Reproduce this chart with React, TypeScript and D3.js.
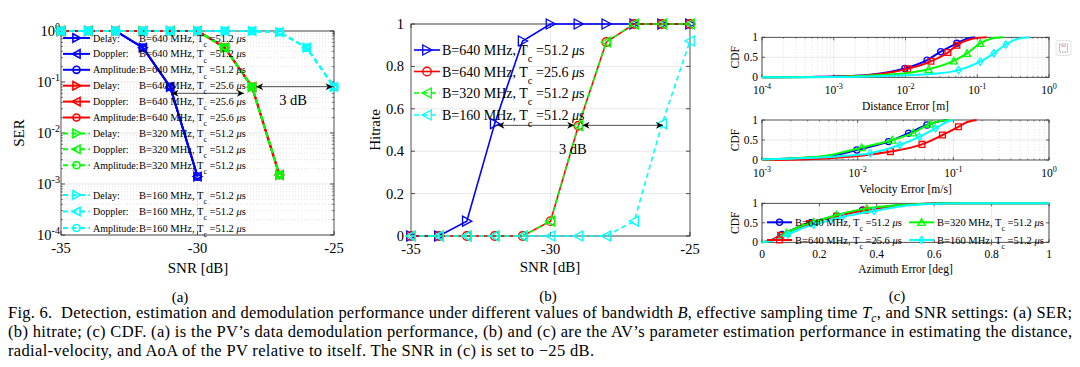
import React from 'react';
import * as d3 from 'd3';

const W = 1080;
const H = 367;
const FONT = '"Liberation Serif", "Times New Roman", serif';

// ---- (a) SER vs SNR ----
const snr = [-35, -34, -33, -32, -31, -30, -29, -28, -27, -26, -25];
const serB640T512 = [1, 1, 1, 0.47, 0.08, 0.0014, null, null, null, null, null];
const serB640T256 = [1, 1, 1, 1, 1, 1, 0.47, 0.08, 0.0015, null, null];
const serB320T512 = [1, 1, 1, 1, 1, 1, 0.47, 0.08, 0.0015, null, null];
const serB160T512 = [1, 1, 1, 1, 1, 1, 1, 1, 0.95, 0.47, 0.08];
const serParams = ['Delay:', 'Doppler:', 'Amplitude:'];
const serTicksY = [1e-4, 1e-3, 1e-2, 1e-1, 1];
// [x1, x2, y]
const serArrows = [[-30.95, -28.3, 0.06], [-27.85, -25.05, 0.081]];

// ---- (b) Hitrate vs SNR ----
const hitB640T512 = [0, 0, 0.07, 0.53, 0.92, 1, 1, 1, 1, 1, 1];
const hitB640T256 = [0, 0, 0, 0, 0, 0.07, 0.52, 0.915, 1, 1, 1];
const hitB320T512 = [0, 0, 0, 0, 0, 0.07, 0.52, 0.915, 1, 1, 1];
const hitB160T512 = [0, 0, 0, 0, 0, 0, 0, 0, 0.07, 0.53, 0.92];
const hitTicksY = [0, 0.2, 0.4, 0.6, 0.8, 1];
const hitArrows = [[-31.9, -29.15, 0.522], [-28.85, -25.97, 0.522]];

// ---- (c) CDFs: [error, cdf], marker indices ----
const distB640T512 = [[1e-4, 0], [5e-4, 0.01], [1e-3, 0.02], [3e-3, 0.06], [6e-3, 0.13], [0.0098, 0.22], [0.02, 0.43], [0.031, 0.64], [0.052, 0.85], [0.07, 0.96], [0.093, 1]];
const distB640T256 = [[1e-4, 0], [1e-3, 0.015], [3e-3, 0.05], [6e-3, 0.12], [0.0107, 0.21], [0.0226, 0.4], [0.039, 0.62], [0.052, 0.8], [0.08, 0.95], [0.135, 1]];
const distB320T512 = [[1e-4, 0], [1e-3, 0.01], [3e-3, 0.04], [0.01, 0.1], [0.021, 0.2], [0.047, 0.41], [0.072, 0.6], [0.11, 0.85], [0.16, 0.97], [0.23, 1]];
const distB160T512 = [[1e-4, 0], [1e-3, 0.005], [3e-3, 0.02], [0.01, 0.05], [0.03, 0.1], [0.055, 0.18], [0.11, 0.39], [0.17, 0.6], [0.25, 0.82], [0.35, 0.95], [0.54, 1]];
const distMarks = [[5, 6, 7, 8], [4, 5, 6, 7], [4, 5, 6, 7], [5, 6, 7, 8]];

const velB640T512 = [[1e-3, 0.02], [2e-3, 0.04], [5e-3, 0.1], [0.0098, 0.25], [0.021, 0.46], [0.034, 0.67], [0.053, 0.875], [0.07, 0.96], [0.085, 1]];
const velB640T256 = [[1e-3, 0], [3e-3, 0.02], [7e-3, 0.07], [0.012, 0.12], [0.022, 0.21], [0.047, 0.39], [0.077, 0.625], [0.113, 0.83], [0.14, 0.95], [0.175, 1]];
const velB320T512 = [[1e-3, 0.02], [2e-3, 0.04], [5e-3, 0.12], [0.011, 0.31], [0.023, 0.5], [0.038, 0.68], [0.057, 0.9], [0.075, 0.98], [0.09, 1]];
const velB160T512 = [[1e-3, 0.015], [3e-3, 0.05], [7e-3, 0.1], [0.0135, 0.17], [0.0275, 0.375], [0.044, 0.58], [0.065, 0.79], [0.085, 0.95], [0.1, 1]];
const velMarks = [[3, 4, 5, 6], [4, 5, 6, 7], [3, 4, 5, 6], [3, 4, 5, 6]];

const aziB640T512 = [[0, 0], [0.03, 0.05], [0.07, 0.2], [0.12, 0.37], [0.17, 0.5], [0.26, 0.68], [0.35, 0.83], [0.45, 0.93], [0.55, 0.98], [0.65, 1], [1, 1]];
const aziB640T256 = [[0, 0], [0.03, 0.04], [0.065, 0.18], [0.12, 0.35], [0.165, 0.48], [0.26, 0.67], [0.36, 0.82], [0.45, 0.92], [0.55, 0.98], [0.65, 1], [1, 1]];
const aziB320T512 = [[0, 0], [0.04, 0.06], [0.085, 0.24], [0.13, 0.4], [0.18, 0.52], [0.26, 0.7], [0.365, 0.87], [0.45, 0.94], [0.55, 0.98], [0.65, 1], [1, 1]];
const aziB160T512 = [[0, 0], [0.04, 0.05], [0.09, 0.2], [0.14, 0.36], [0.18, 0.45], [0.28, 0.65], [0.39, 0.8], [0.48, 0.92], [0.58, 0.98], [0.7, 1], [1, 1]];
const aziMarks = [[2, 4, 5, 6], [2, 4, 5, 6], [2, 4, 5, 6], [2, 4, 5, 6]];

const configB = ['640', '640', '320', '160'];
const configTc = ['51.2', '25.6', '51.2', '51.2'];

// styles
const COLORS = ['#0000ff', '#ff0000', '#00ff00', '#00ffff'];
const DASH = [undefined, undefined, '5,3.5', '5,3.5'];
const HIT_MARK = ['tr', 'o', 'tl', 'tl'];
const CDF_MARK = ['o', 's', 'tu', 'd'];
const SER_MARK = ['tr', 'tl', 'o'];
const AXIS = '#262626';
const GRID = '#e2e2e2';
const MINOR = '#cfcfcf';

function mk(type: string, x: number, y: number, s: number) {
  switch (type) {
    case 'tr': return `M${x - s * 0.85},${y - s}L${x + s},${y}L${x - s * 0.85},${y + s}Z`;
    case 'tl': return `M${x + s * 0.85},${y - s}L${x - s},${y}L${x + s * 0.85},${y + s}Z`;
    case 'tu': return `M${x - s},${y + s * 0.85}L${x},${y - s}L${x + s},${y + s * 0.85}Z`;
    case 's': return `M${x - s * 0.8},${y - s * 0.8}h${1.6 * s}v${1.6 * s}h${-1.6 * s}Z`;
    case 'd': return `M${x},${y - s}L${x + s * 0.75},${y}L${x},${y + s}L${x - s * 0.75},${y}Z`;
    default: {
      const r = s * 0.85;
      return `M${x - r},${y}a${r},${r} 0 1,0 ${2 * r},0a${r},${r} 0 1,0 ${-2 * r},0`;
    }
  }
}

function CfgLabel({ x, y, i, size }: any) {
  return (
    <text x={x} y={y} fontSize={size} fontFamily={FONT} fill="#000">
      B={configB[i]} MHz, T
      <tspan dy={size * 0.5} fontSize={size * 0.75}>c</tspan>
      <tspan dy={-size * 0.5}> ={configTc[i]} </tspan>
      <tspan fontStyle="italic">μ</tspan>s
    </text>
  );
}

function Pow({ x, y, e, size, anchor }: any) {
  return (
    <text x={x} y={y} fontSize={size} fontFamily={FONT} textAnchor={anchor || 'middle'} fill="#000">
      10<tspan dy={-size * 0.42} fontSize={size * 0.7}>{e}</tspan>
    </text>
  );
}

function logMinors(lo: number, hi: number) {
  const out: number[] = [];
  for (let e = lo; e < hi; e++) for (let k = 2; k <= 9; k++) out.push(k * Math.pow(10, e));
  return out;
}

function Box({ x0, x1, y0, y1 }: any) {
  return <rect x={x0} y={y1} width={x1 - x0} height={y0 - y1} fill="none" stroke={AXIS} strokeWidth={0.8} />;
}

function PanelA() {
  const x = d3.scaleLinear().domain([-35, -25]).range([61, 334]);
  const y = d3.scaleLog().domain([1e-4, 1]).range([235, 31]);
  const series = [serB640T512, serB640T256, serB320T512, serB160T512];
  const line = d3.line<any>().defined((d) => d[1] != null).x((d) => x(d[0])).y((d) => y(d[1]));
  const legY = (i: number) => (i < 9 ? 38 + i * 15.9 : 195 + (i - 9) * 16.5);
  return (
    <g>
      {logMinors(-4, 0).map((v) => (
        <line key={'m' + v} x1={61} x2={334} y1={y(v)} y2={y(v)} stroke={MINOR} strokeWidth={0.6} strokeDasharray="1,2" />
      ))}
      {serTicksY.map((v) => (
        <line key={'g' + v} x1={61} x2={334} y1={y(v)} y2={y(v)} stroke={GRID} strokeWidth={0.8} />
      ))}
      {[-30].map((v) => (
        <line key={'gx' + v} x1={x(v)} x2={x(v)} y1={31} y2={235} stroke={GRID} strokeWidth={0.8} />
      ))}
      {logMinors(-4, 0).map((v) => (
        <g key={'mt' + v}>
          <line x1={61} x2={63} y1={y(v)} y2={y(v)} stroke={AXIS} strokeWidth={0.6} />
          <line x1={332} x2={334} y1={y(v)} y2={y(v)} stroke={AXIS} strokeWidth={0.6} />
        </g>
      ))}
      {serTicksY.map((v) => (
        <g key={'t' + v}>
          <line x1={61} x2={65} y1={y(v)} y2={y(v)} stroke={AXIS} strokeWidth={0.8} />
          <line x1={330} x2={334} y1={y(v)} y2={y(v)} stroke={AXIS} strokeWidth={0.8} />
          <Pow x={60} y={y(v) + 5} e={Math.round(Math.log10(v))} size={14.5} anchor="end" />
        </g>
      ))}
      {[-35, -30, -25].map((v) => (
        <g key={'xt' + v}>
          <line x1={x(v)} x2={x(v)} y1={235} y2={231} stroke={AXIS} strokeWidth={0.8} />
          <line x1={x(v)} x2={x(v)} y1={31} y2={35} stroke={AXIS} strokeWidth={0.8} />
          <text x={x(v)} y={253} fontSize={14.5} fontFamily={FONT} textAnchor="middle">{v}</text>
        </g>
      ))}
      <Box x0={61} x1={334} y0={235} y1={31} />
      {series.map((s, ci) => {
        const pts = snr.map((v, k) => [v, s[k]]);
        return (
          <g key={'s' + ci}>
            {SER_MARK.map((m) => (
              <path key={m} d={line(pts) || ''} fill="none" stroke={COLORS[ci]} strokeWidth={2} strokeDasharray={DASH[ci]} />
            ))}
            {SER_MARK.map((m) =>
              pts.filter((p) => p[1] != null).map((p, k) => (
                <path key={m + k} d={mk(m, x(p[0]), y(p[1] as number), 4.2)} fill="none" stroke={COLORS[ci]} strokeWidth={1.6} />
              ))
            )}
          </g>
        );
      })}
      {serArrows.map((a, k) => (
        <line key={'ar' + k} x1={x(a[0])} x2={x(a[1])} y1={y(a[2])} y2={y(a[2])} stroke="#000" strokeWidth={0.7} markerStart="url(#ah)" markerEnd="url(#ah)" />
      ))}
      <text x={x(-26.5)} y={y(0.044) + 5} fontSize={14.5} fontFamily={FONT} textAnchor="middle">3 dB</text>
      {/* legend */}
      {[0, 1, 2, 3].map((ci) =>
        serParams.map((p, pi) => {
          const i = ci * 3 + pi;
          const ly = legY(i);
          return (
            <g key={'l' + i}>
              <line x1={63} x2={90} y1={ly} y2={ly} stroke={COLORS[ci]} strokeWidth={2} strokeDasharray={DASH[ci]} />
              <path d={mk(SER_MARK[pi], 76.5, ly, 4.2)} fill="none" stroke={COLORS[ci]} strokeWidth={1.6} />
              <text x={93} y={ly + 3.5} fontSize={10} fontFamily={FONT}>{p}</text>
              <CfgLabel x={139} y={ly + 3.5} i={ci} size={10.5} />
            </g>
          );
        })
      )}
      <text transform="translate(24,133) rotate(-90)" fontSize={15} fontFamily={FONT} textAnchor="middle">SER</text>
      <text x={198} y={273} fontSize={15} fontFamily={FONT} textAnchor="middle">SNR [dB]</text>
      <text x={180} y={302} fontSize={15} fontFamily={FONT} textAnchor="middle">(a)</text>
    </g>
  );
}

function PanelB() {
  const x = d3.scaleLinear().domain([-35, -25]).range([411, 690]);
  const y = d3.scaleLinear().domain([0, 1]).range([236, 24]);
  const series = [hitB640T512, hitB640T256, hitB320T512, hitB160T512];
  const line = d3.line<any>().x((d) => x(d[0])).y((d) => y(d[1]));
  const legY = [50, 71.5, 93, 115];
  return (
    <g>
      {hitTicksY.map((v) => (
        <line key={'g' + v} x1={411} x2={690} y1={y(v)} y2={y(v)} stroke={GRID} strokeWidth={0.8} />
      ))}
      <line x1={x(-30)} x2={x(-30)} y1={24} y2={236} stroke={GRID} strokeWidth={0.8} />
      {hitTicksY.map((v) => (
        <g key={'t' + v}>
          <line x1={411} x2={415} y1={y(v)} y2={y(v)} stroke={AXIS} strokeWidth={0.8} />
          <line x1={686} x2={690} y1={y(v)} y2={y(v)} stroke={AXIS} strokeWidth={0.8} />
          <text x={404} y={y(v) + 5} fontSize={14.5} fontFamily={FONT} textAnchor="end">{v}</text>
        </g>
      ))}
      {[-35, -30, -25].map((v) => (
        <g key={'xt' + v}>
          <line x1={x(v)} x2={x(v)} y1={236} y2={232} stroke={AXIS} strokeWidth={0.8} />
          <line x1={x(v)} x2={x(v)} y1={24} y2={28} stroke={AXIS} strokeWidth={0.8} />
          <text x={x(v)} y={254} fontSize={14.5} fontFamily={FONT} textAnchor="middle">{v}</text>
        </g>
      ))}
      <Box x0={411} x1={690} y0={236} y1={24} />
      {series.map((s, ci) => {
        const pts = snr.map((v, k) => [v, s[k]]);
        return (
          <g key={'s' + ci}>
            <path d={line(pts) || ''} fill="none" stroke={COLORS[ci]} strokeWidth={1.6} strokeDasharray={DASH[ci]} />
            {pts.map((p, k) => (
              <path key={k} d={mk(HIT_MARK[ci], x(p[0]), y(p[1]), 5)} fill="none" stroke={COLORS[ci]} strokeWidth={1.3} />
            ))}
          </g>
        );
      })}
      {hitArrows.map((a, k) => (
        <line key={'ar' + k} x1={x(a[0])} x2={x(a[1])} y1={y(a[2])} y2={y(a[2])} stroke="#000" strokeWidth={0.7} markerStart="url(#ah)" markerEnd="url(#ah)" />
      ))}
      <text x={x(-29.2)} y={y(0.41) + 5} fontSize={14.5} fontFamily={FONT} textAnchor="middle">3 dB</text>
      {[0, 1, 2, 3].map((ci) => (
        <g key={'l' + ci}>
          <line x1={414} x2={440} y1={legY[ci]} y2={legY[ci]} stroke={COLORS[ci]} strokeWidth={1.6} strokeDasharray={DASH[ci]} />
          <path d={mk(HIT_MARK[ci], 427, legY[ci], 5)} fill="none" stroke={COLORS[ci]} strokeWidth={1.3} />
          <CfgLabel x={442} y={legY[ci] + 5} i={ci} size={14} />
        </g>
      ))}
      <text transform="translate(380,130) rotate(-90)" fontSize={15} fontFamily={FONT} textAnchor="middle">Hitrate</text>
      <text x={550} y={272} fontSize={15} fontFamily={FONT} textAnchor="middle">SNR [dB]</text>
      <text x={548} y={301} fontSize={15} fontFamily={FONT} textAnchor="middle">(b)</text>
    </g>
  );
}

function CdfSub({ y0, y1, log, domain, series, marks, label, tickY, labelY, legend }: any) {
  const X0 = 762;
  const X1 = 1049;
  const x = log ? d3.scaleLog().domain(domain).range([X0, X1]) : d3.scaleLinear().domain(domain).range([X0, X1]);
  const y = d3.scaleLinear().domain([0, 1]).range([y0, y1]);
  const line = d3.line<any>().x((d) => x(d[0])).y((d) => y(d[1])).curve(d3.curveMonotoneX);
  const lo = log ? Math.round(Math.log10(domain[0])) : 0;
  const majors = log ? d3.range(lo, 1).map((e) => Math.pow(10, e)) : [0, 0.2, 0.4, 0.6, 0.8, 1];
  const minors = log ? logMinors(lo, 0) : [];
  return (
    <g>
      {minors.map((v) => (
        <line key={'m' + v} x1={x(v)} x2={x(v)} y1={y0} y2={y1} stroke={MINOR} strokeWidth={0.6} strokeDasharray="1,2" />
      ))}
      {majors.map((v) => (
        <line key={'g' + v} x1={x(v)} x2={x(v)} y1={y0} y2={y1} stroke={GRID} strokeWidth={0.8} />
      ))}
      <line x1={X0} x2={X1} y1={y(0.5)} y2={y(0.5)} stroke={GRID} strokeWidth={0.8} />
      {minors.map((v) => (
        <g key={'mt' + v}>
          <line x1={x(v)} x2={x(v)} y1={y0} y2={y0 - 1.5} stroke={AXIS} strokeWidth={0.5} />
          <line x1={x(v)} x2={x(v)} y1={y1} y2={y1 + 1.5} stroke={AXIS} strokeWidth={0.5} />
        </g>
      ))}
      {majors.map((v) => (
        <g key={'t' + v}>
          <line x1={x(v)} x2={x(v)} y1={y0} y2={y0 - 3} stroke={AXIS} strokeWidth={0.7} />
          <line x1={x(v)} x2={x(v)} y1={y1} y2={y1 + 3} stroke={AXIS} strokeWidth={0.7} />
          {log ? (
            <Pow x={x(v)} y={tickY} e={Math.round(Math.log10(v))} size={11.5} />
          ) : (
            <text x={x(v)} y={tickY} fontSize={11.5} fontFamily={FONT} textAnchor="middle">{v}</text>
          )}
        </g>
      ))}
      {[0, 0.5, 1].map((v) => (
        <g key={'yt' + v}>
          <line x1={X0} x2={X0 + 3} y1={y(v)} y2={y(v)} stroke={AXIS} strokeWidth={0.7} />
          <line x1={X1 - 3} x2={X1} y1={y(v)} y2={y(v)} stroke={AXIS} strokeWidth={0.7} />
          <text x={758} y={y(v) + 4} fontSize={11.5} fontFamily={FONT} textAnchor="end">{v}</text>
        </g>
      ))}
      <Box x0={X0} x1={X1} y0={y0} y1={y1} />
      {series.map((s: any, ci: number) => (
        <g key={'s' + ci}>
          <path d={line(s) || ''} fill="none" stroke={COLORS[ci]} strokeWidth={2} />
          {marks[ci].map((k: number) => (
            <path key={k} d={mk(CDF_MARK[ci], x(s[k][0]), y(s[k][1]), 3.6)} fill="none" stroke={COLORS[ci]} strokeWidth={1.3} />
          ))}
        </g>
      ))}
      {legend &&
        [0, 1, 2, 3].map((ci) => {
          const lx = ci < 2 ? 767 : 909;
          const ly = ci % 2 === 0 ? 222.3 : 240;
          return (
            <g key={'l' + ci}>
              <line x1={lx} x2={lx + 25} y1={ly} y2={ly} stroke={COLORS[ci]} strokeWidth={2} />
              <path d={mk(CDF_MARK[ci], lx + 12.5, ly, 3.6)} fill="none" stroke={COLORS[ci]} strokeWidth={1.3} />
              <CfgLabel x={lx + 28} y={ly + 3.5} i={ci} size={10.5} />
            </g>
          );
        })}
      <text transform={`translate(739,${(y0 + y1) / 2}) rotate(-90)`} fontSize={11.5} fontFamily={FONT} textAnchor="middle">CDF</text>
      <text x={905.5} y={labelY} fontSize={11.5} fontFamily={FONT} textAnchor="middle">{label}</text>
    </g>
  );
}

function PanelC() {
  return (
    <g>
      <CdfSub y0={77.3} y1={37.3} log domain={[1e-4, 1]} series={[distB640T512, distB640T256, distB320T512, distB160T512]} marks={distMarks} label="Distance Error [m]" tickY={94} labelY={110} />
      <CdfSub y0={160} y1={120} log domain={[1e-3, 1]} series={[velB640T512, velB640T256, velB320T512, velB160T512]} marks={velMarks} label="Velocity Error [m/s]" tickY={176.5} labelY={193} />
      <CdfSub y0={242.3} y1={203.3} domain={[0, 1]} series={[aziB640T512, aziB640T256, aziB320T512, aziB160T512]} marks={aziMarks} label="Azimuth Error [deg]" tickY={257.5} labelY={272.5} legend />
      <text x={897} y={301} fontSize={15} fontFamily={FONT} textAnchor="middle">(c)</text>
      <g>
        <rect x={1056} y={40.5} width={15} height={15} rx={2} fill="#fbfbfb" stroke="#dedede" strokeWidth={0.8} />
        <rect x={1059.5} y={44} width={8} height={8} fill="none" stroke="#888" strokeWidth={0.8} strokeDasharray="1.5,1" />
        <line x1={1061} x2={1066} y1={46} y2={46} stroke="#c77" strokeWidth={0.8} />
      </g>
    </g>
  );
}

function Caption() {
  const sz = 16.5;
  const st: any = { whiteSpace: 'pre' };
  return (
    <g fontFamily={FONT} fontSize={sz} fill="#000">
      <text x={8} y={318} textLength={1064} lengthAdjust="spacing" style={st}>
        Fig. 6.  Detection, estimation and demodulation performance under different values of bandwidth <tspan fontStyle="italic">B</tspan>, effective sampling time <tspan fontStyle="italic">T</tspan><tspan fontStyle="italic" fontSize={11.5} dy={3.5}>c</tspan><tspan dy={-3.5}>, and SNR settings: (a) SER;</tspan>
      </text>
      <text x={8} y={337} textLength={1064} lengthAdjust="spacing" style={st}>
        (b) hitrate; (c) CDF. (a) is the PV’s data demodulation performance, (b) and (c) are the AV’s parameter estimation performance in estimating the distance,
      </text>
      <text x={8} y={356} textLength={586} lengthAdjust="spacing" style={st}>
        radial-velocity, and AoA of the PV relative to itself. The SNR in (c) is set to −25 dB.
      </text>
    </g>
  );
}

export default function App() {
  return (
    <svg width={W} height={H} viewBox={`0 0 ${W} ${H}`} style={{ position: 'absolute', left: 0, top: 0, background: '#fff' }}>
      <defs>
        <marker id="ah" viewBox="0 0 10 10" refX="10" refY="5" markerWidth="9" markerHeight="7" orient="auto-start-reverse" markerUnits="userSpaceOnUse">
          <path d="M0,0 L10,5 L0,10 L3,5 Z" fill="#000" />
        </marker>
      </defs>
      <rect width={W} height={H} fill="#fff" />
      <PanelA />
      <PanelB />
      <PanelC />
      <Caption />
    </svg>
  );
}
